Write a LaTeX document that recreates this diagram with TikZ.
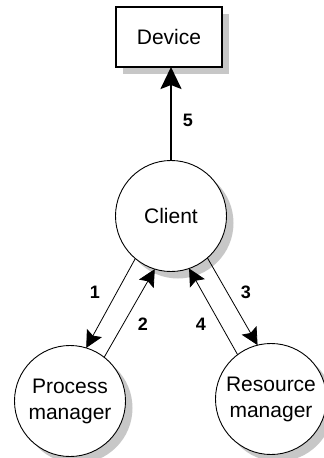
\documentclass[tikz,border=0pt]{standalone}
\usepackage{fontspec}
\setmainfont{Liberation Sans}
\usetikzlibrary{shadows,arrows.meta}
\begin{document}
\begin{tikzpicture}[x=1pt,y=-1pt,
  shad/.style={drop shadow={opacity=1,fill=black!22,shadow xshift=7pt,shadow yshift=-7pt}},
  circ/.style={circle,draw,line width=0.9pt,fill=white,minimum size=111pt,inner sep=0pt,outer sep=0pt,
     align=center,font=\fontsize{21}{26}\selectfont,shad},
  thinarrow/.style={line width=0.8pt,-{Stealth[length=17pt,width=17pt,inset=3pt]}},
  num/.style={font=\fontsize{18}{20}\selectfont\bfseries}]
\useasboundingbox (0,0) rectangle (324,458);
\node[draw,line width=1.6pt,fill=white,minimum width=106pt,minimum height=60pt,inner sep=0pt,outer sep=0pt,
  font=\fontsize{21}{26}\selectfont,shad] (device) at (169,37) {Device};
\node[circ] (client) at (171,216) {Client};
\node[circ] (pm) at (70,401) {Process\\manager};
\node[circ] (rm) at (271,399) {Resource\\manager};
\draw[line width=2.4pt,-{Stealth[length=22pt,width=21pt,inset=4pt]}] (client.north) -- (client.north |- device.south);
\draw[thinarrow] (client.230) -- (pm.73);
\draw[thinarrow] (pm.52) -- (client.253);
\draw[thinarrow] (client.311) -- (rm.104);
\draw[thinarrow] (rm.127) -- (client.289);
\node[num] (l5) at (188,120) {5};
\node[num] (l1) at (95,292) {1};
\node[num] (l2) at (143,324) {2};
\node[num] (l3) at (246,292) {3};
\node[num] (l4) at (201,324) {4};
\end{tikzpicture}
\end{document}
